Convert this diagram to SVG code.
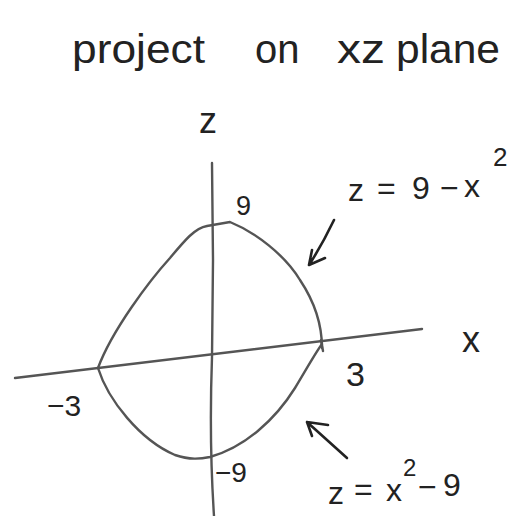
<svg xmlns="http://www.w3.org/2000/svg" width="525" height="516" viewBox="0 0 525 516">
<style>
.ln{fill:none;stroke:#555;stroke-width:2.4;stroke-linecap:round;stroke-linejoin:round}
.ar{fill:none;stroke:#222;stroke-width:2.6;stroke-linecap:round;stroke-linejoin:round}
.t{font-family:"Liberation Sans","DejaVu Sans",sans-serif;fill:#222}
</style>
<rect width="525" height="516" fill="#fff"/>
<g id="title" class="t" font-size="40">
<text x="72" y="63" textLength="133" lengthAdjust="spacingAndGlyphs">project</text>
<text x="255" y="63">on</text>
<text x="337" y="63" textLength="48" lengthAdjust="spacingAndGlyphs">xz</text>
<text x="396" y="63" textLength="104" lengthAdjust="spacingAndGlyphs">plane</text>
</g>
<g id="axes">
<path class="ln" d="M212,163 L213,260 L212,357 Q209,440 214,516"/>
<path class="ln" d="M15,378 L422,329"/>
<path class="ln" d="M321,340 L323,351"/>
</g>
<g id="curves">
<path class="ln" d="M98,368 C112,330 150,280 170,258 C185,240 195,228 207,226 L230,222 C255,232 285,255 300,280 C312,298 322,320 322,348"/>
<path class="ln" d="M98,368 C108,400 140,440 175,455 C190,460 200,459 210,457 C245,447 275,420 295,388 C307,368 316,352 322,344"/>
</g>
<g id="labels" class="t">
<text x="199" y="133" font-size="36">z</text>
<text x="236" y="215" font-size="27">9</text>
<g font-size="32">
<text x="348" y="201">z</text>
<text x="377" y="199">=</text>
<text x="412" y="199">9</text>
<text x="440" y="199">−</text>
<text x="464" y="197">x</text>
</g>
<text x="493" y="166" font-size="26">2</text>
<text x="462" y="352" font-size="36">x</text>
<text x="346" y="386" font-size="34">3</text>
<text x="47" y="416" font-size="30">−3</text>
<text x="215" y="482" font-size="28">−9</text>
<g font-size="32">
<text x="328" y="504">z</text>
<text x="354" y="500">=</text>
<text x="386" y="501">x</text>
<text x="418" y="498">−</text>
<text x="443" y="496">9</text>
</g>
<text x="403" y="476" font-size="24">2</text>
</g>
<g id="connectors">
<path class="ar" d="M334,220 Q322,245 309,265 M309,265 L325,258 M309,265 L312,250"/>
<path class="ar" d="M347,458 L307,422 M307,422 L328,425 M307,422 L312,436"/>
</g>
</svg>
